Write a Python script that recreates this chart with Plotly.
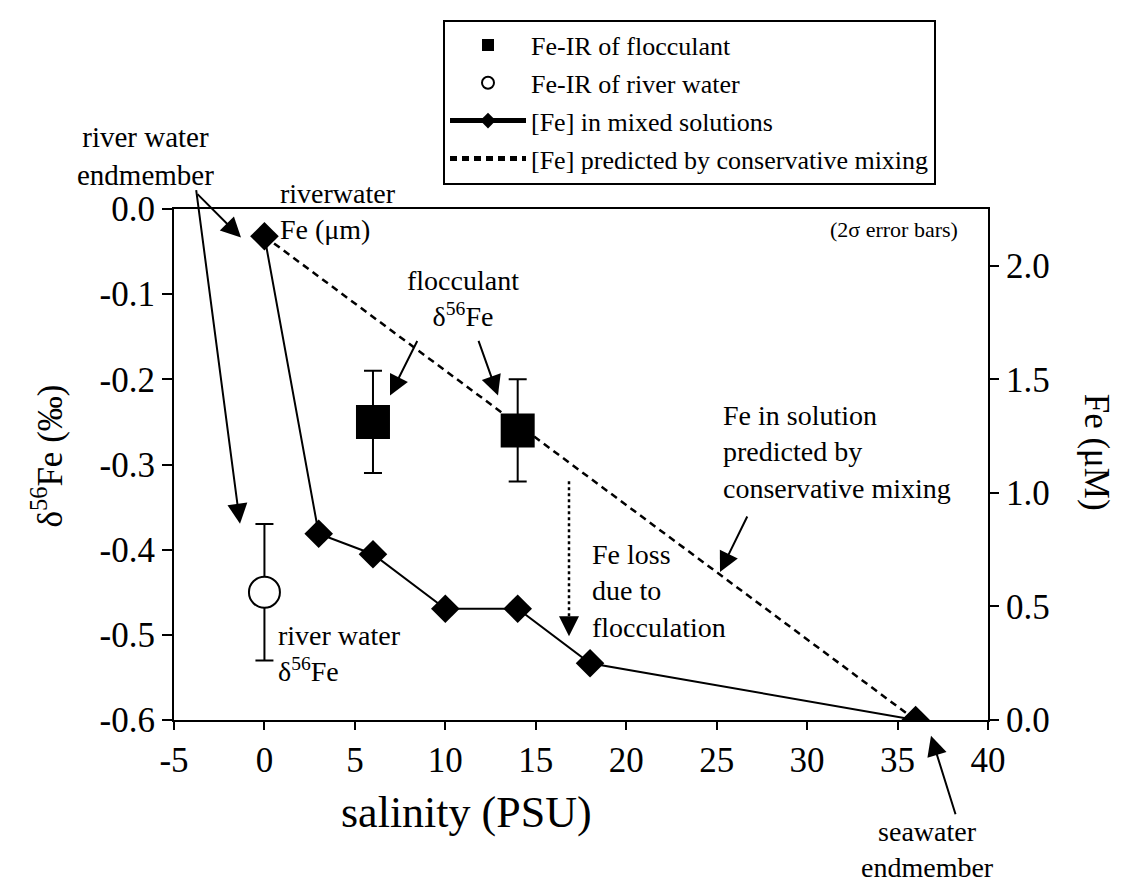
import plotly.graph_objects as go

# ---------------- data ----------------
floc_salinity = [6, 14]
floc_d56fe = [-0.25, -0.26]
floc_err = [0.06, 0.06]

river_salinity = [0]
river_d56fe = [-0.45]
river_err = [0.08]

mix_salinity = [0, 3, 6, 10, 14, 18, 36]
mix_fe = [2.13, 0.82, 0.73, 0.49, 0.49, 0.25, 0.0]

cons_salinity = [0, 36]
cons_fe = [2.13, 0.0]

x_ticks = [-5, 0, 5, 10, 15, 20, 25, 30, 35, 40]
x_labels = ["-5", "0", "5", "10", "15", "20", "25", "30", "35", "40"]
y_ticks = [0.0, -0.1, -0.2, -0.3, -0.4, -0.5, -0.6]
y_labels = ["0.0", "-0.1", "-0.2", "-0.3", "-0.4", "-0.5", "-0.6"]
y2_ticks = [0.0, 0.5, 1.0, 1.5, 2.0]
y2_labels = ["0.0", "0.5", "1.0", "1.5", "2.0"]

# ---------------- layout geometry ----------------
W, H = 1124, 886
L, R, T, B = 166, 144, 194, 174
PW, PH = W - L - R, H - T - B
FONT = "Liberation Serif, Times New Roman, Times, serif"


def px(p):
    return (p - L) / PW


def py(p):
    return (H - B - p) / PH


fig = go.Figure()

fig.add_trace(go.Scatter(
    x=floc_salinity, y=floc_d56fe, mode="markers", name="Fe-IR of flocculant",
    marker=dict(symbol="square", size=34, color="black"),
    error_y=dict(type="data", array=floc_err, color="black", thickness=2, width=9),
    legendgroup="a",
))
fig.add_trace(go.Scatter(
    x=river_salinity, y=river_d56fe, mode="markers", name="Fe-IR of river water",
    marker=dict(symbol="circle", size=31, color="white", line=dict(color="black", width=2)),
    error_y=dict(type="data", array=river_err, color="black", thickness=2, width=9),
    legendgroup="b",
))
fig.add_trace(go.Scatter(
    x=mix_salinity, y=mix_fe, mode="lines+markers", name="[Fe] in mixed solutions",
    yaxis="y2", line=dict(color="black", width=2),
    marker=dict(symbol="diamond", size=22, color="black"),
    legendgroup="c",
))
fig.add_trace(go.Scatter(
    x=cons_salinity, y=cons_fe, mode="lines", name="[Fe] predicted by conservative mixing",
    yaxis="y2", line=dict(color="black", width=2.5, dash="7px,5px"),
    legendgroup="d",
))

axis_common = dict(showgrid=False, zeroline=False, showline=True, linecolor="black",
                   linewidth=2, tickcolor="black", tickwidth=2,
                   tickfont=dict(family=FONT, size=35, color="black"))

fig.update_layout(
    width=W, height=H,
    margin=dict(l=L, r=R, t=T, b=B),
    paper_bgcolor="white", plot_bgcolor="white",
    font=dict(family=FONT, color="black"),
    xaxis=dict(range=[-5, 40], tickvals=x_ticks, ticktext=x_labels, ticks="outside",
               ticklen=8, mirror=True, **axis_common),
    yaxis=dict(range=[-0.6, 0.0], tickvals=y_ticks, ticktext=y_labels, ticks="outside",
               ticklen=10, **axis_common),
    yaxis2=dict(range=[0, 2.25], tickvals=y2_ticks, ticktext=y2_labels, overlaying="y",
                side="right", ticks="outside", ticklen=9, **axis_common),
    yaxis3=dict(range=[0, 2.25], tickvals=y2_ticks, overlaying="y", side="right",
                ticks="inside", ticklen=9, showticklabels=False, showgrid=False,
                zeroline=False, showline=False, tickcolor="black", tickwidth=2),
    legend=dict(x=px(435), y=py(2), xanchor="left", yanchor="top",
                bordercolor="black", borderwidth=2, bgcolor="white",
                font=dict(family=FONT, size=26, color="black"),
                itemwidth=76, tracegroupgap=1, itemsizing="constant"),
    showlegend=True,
)

anns = []


def text(x, y, s, size=28, align="left", xanchor="left"):
    anns.append(dict(x=px(x), y=py(y), xref="paper", yref="paper", text=s, showarrow=False,
                     font=dict(family=FONT, size=size, color="black"), align=align,
                     xanchor=xanchor, yanchor="middle"))


def arrow(x0, y0, x1, y1):
    anns.append(dict(x=px(x1), y=py(y1), xref="paper", yref="paper", text="",
                     showarrow=True, ax=x0 - x1, ay=y0 - y1, axref="pixel", ayref="pixel",
                     arrowhead=2, arrowsize=2, arrowwidth=2, arrowcolor="black"))


text(137, 140, "river water<br>endmember", size=29, align="center", xanchor="center")
text(270, 197, "riverwater<br>Fe (μm)", size=28)
text(952, 215, "(2σ error bars)", size=22, xanchor="right")
text(455, 285, "flocculant<br>δ<sup>56</sup>Fe", size=28, align="center", xanchor="center")
text(268, 645, "river water<br>δ<sup>56</sup>Fe", size=28)
text(713, 440, "Fe in solution<br>predicted by<br>conservative mixing", size=28)
text(582, 581, "Fe loss<br>due to<br>flocculation", size=28)
text(919, 843, "seawater<br>endmember", size=28, align="center", xanchor="center")
anns.append(dict(x=px(458), y=py(806), xref="paper", yref="paper", text="salinity (PSU)",
                 xanchor="center", yanchor="middle", showarrow=False,
                 font=dict(family=FONT, size=44, color="black")))
anns.append(dict(x=px(40), y=py(445), xref="paper", yref="paper",
                 text="δ<sup>56</sup>Fe (‰)", textangle=-90, showarrow=False,
                 xanchor="center", yanchor="middle",
                 font=dict(family=FONT, size=35, color="black")))
anns.append(dict(x=px(1088), y=py(440), xref="paper", yref="paper",
                 text="Fe (μM)", textangle=90, showarrow=False,
                 xanchor="center", yanchor="middle",
                 font=dict(family=FONT, size=35, color="black")))

arrow(188, 178, 233, 223)
arrow(188, 178, 232, 513)
arrow(410, 327, 382, 383)
arrow(470, 327, 490, 383)
arrow(740, 505, 712, 562)
arrow(948, 808, 923, 728)

fig.update_layout(annotations=anns)

# dotted Fe-loss arrow: dotted shaft plus arrowhead
fig.add_shape(type="line", xref="paper", yref="paper", x0=px(561), y0=py(470),
              x1=px(561), y1=py(608), line=dict(color="black", width=2.5, dash="dot"))
fig.add_annotation(x=px(561), y=py(627), xref="paper", yref="paper", text="",
                   showarrow=True, ax=0, ay=-16, axref="pixel", ayref="pixel",
                   arrowhead=2, arrowsize=2, arrowwidth=2, arrowcolor="black")

fig.write_html("out.html")
